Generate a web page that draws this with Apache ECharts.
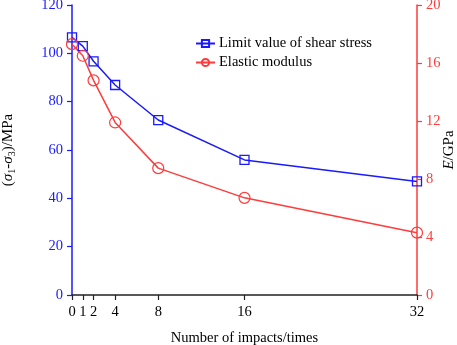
<!DOCTYPE html>
<html><head><meta charset="utf-8">
<script src="https://cdn.jsdelivr.net/npm/echarts@6/dist/echarts.min.js"></script>
<style>html,body{margin:0;padding:0;background:#fff}#c{width:457px;height:345px}</style>
</head><body><div id="c"></div>
<script>
var impacts = [0, 1, 2, 4, 8, 16, 32];
var shearStress = [106.6, 103.0, 96.7, 86.9, 72.4, 55.9, 47.0];
var elasticModulus = [17.3, 16.5, 14.8, 11.9, 8.75, 6.7, 4.3];
var xTicks = [0, 1, 2, 4, 8, 16, 32];

var FONT = "'Liberation Serif','Times New Roman',serif";
var BLUE = '#1a1aff';
var RED = '#ff3b3b';
function pairs(xs, ys){ return xs.map(function(x,i){return [x, ys[i]];}); }

var chart = echarts.init(document.getElementById('c'));
chart.setOption({
  animation: false,
  textStyle: {fontFamily: FONT},
  grid: {left: 72, right: 40, top: 5, bottom: 50, outerBoundsMode: 'none', containLabel: false},
  legend: {
    left: 190, top: 31, orient: 'vertical', itemGap: 4, itemWidth: 19, itemHeight: 9,
    textStyle: {fontFamily: FONT, fontSize: 14.5, color: '#000', padding: [0,0,0,-1]},
    data: ['Limit value of shear stress', 'Elastic modulus']
  },
  xAxis: {
    type: 'value', min: 0, max: 32,
    name: 'Number of impacts/times', nameLocation: 'middle', nameGap: 36, nameMoveOverlap: false,
    nameTextStyle: {fontFamily: FONT, fontSize: 14.5, color: '#000'},
    axisLine: {lineStyle: {color: '#222', width: 1.5}},
    axisTick: {customValues: xTicks, length: 5, lineStyle: {color: '#222', width: 1.2}},
    axisLabel: {customValues: xTicks, fontFamily: FONT, fontSize: 14.5, color: '#000', margin: 10},
    splitLine: {show: false}
  },
  yAxis: [{
    type: 'value', min: 0, max: 120, interval: 20, position: 'left',
    name: '({s|σ}{sub|1}-{s|σ}{sub|3})/MPa', nameLocation: 'middle', nameGap: 55, nameRotate: 90, nameMoveOverlap: false,
    nameTextStyle: {fontFamily: FONT, fontSize: 15, color: '#000',
      rich: {s: {fontFamily: FONT, fontSize: 15, fontStyle: 'italic', color: '#000'},
             sub: {fontFamily: FONT, fontSize: 10, color: '#000', padding: [8, 0, 0, 0]}}},
    axisLine: {show: true, lineStyle: {color: BLUE, width: 1.5}},
    axisTick: {show: true, length: 5, lineStyle: {color: BLUE, width: 1.2}},
    axisLabel: {fontFamily: FONT, fontSize: 14.5, color: BLUE, margin: 9},
    splitLine: {show: false}
  }, {
    type: 'value', min: 0, max: 20, interval: 4, position: 'right',
    name: '{e|E}/GPa', nameLocation: 'middle', nameGap: 25, nameRotate: 90, nameMoveOverlap: false,
    nameTextStyle: {fontFamily: FONT, fontSize: 15, color: '#000',
      rich: {e: {fontFamily: FONT, fontSize: 15, fontStyle: 'italic', color: '#000'}}},
    axisLine: {show: true, lineStyle: {color: RED, width: 1.5}},
    axisTick: {show: true, length: 5, lineStyle: {color: RED, width: 1.2}},
    axisLabel: {fontFamily: FONT, fontSize: 14.5, color: RED, margin: 9},
    splitLine: {show: false}
  }],
  series: [{
    name: 'Limit value of shear stress', type: 'line', yAxisIndex: 0,
    data: pairs(impacts, shearStress),
    symbol: 'rect', symbolSize: 9, showAllSymbol: true,
    lineStyle: {color: BLUE, width: 1.5},
    itemStyle: {color: 'rgba(255,255,255,0)', borderColor: BLUE, borderWidth: 1.3}
  }, {
    name: 'Elastic modulus', type: 'line', yAxisIndex: 1,
    data: pairs(impacts, elasticModulus),
    symbol: 'circle', symbolSize: 11, showAllSymbol: true,
    lineStyle: {color: RED, width: 1.5},
    itemStyle: {color: 'rgba(255,255,255,0)', borderColor: RED, borderWidth: 1.2}
  }]
});
</script></body></html>
